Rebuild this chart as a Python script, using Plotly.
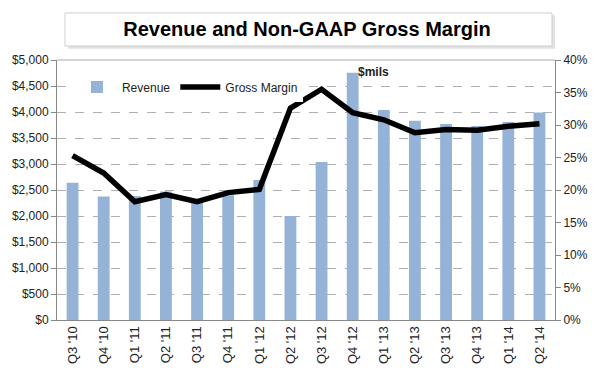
import plotly.graph_objects as go

quarters = ["Q3 '10", "Q4 '10", "Q1 '11", "Q2 '11", "Q3 '11", "Q4 '11", "Q1 '12", "Q2 '12",
            "Q3 '12", "Q4 '12", "Q1 '13", "Q2 '13", "Q3 '13", "Q4 '13", "Q1 '14", "Q2 '14"]
revenue = [2640, 2375, 2385, 2470, 2280, 2400, 2690, 2000,
           3040, 4755, 4040, 3830, 3770, 3730, 3810, 3990]
gross_margin = [25.3, 22.6, 18.2, 19.3, 18.2, 19.6, 20.1, 32.6,
                35.5, 31.9, 30.8, 28.8, 29.3, 29.2, 29.8, 30.2]
left_ticks = list(range(0, 5001, 500))
left_labels = ["${:,}".format(v) for v in left_ticks]
right_ticks = list(range(0, 41, 5))
right_labels = ["{}%".format(v) for v in right_ticks]

font = "Liberation Sans, Arial, sans-serif"
fig = go.Figure()
fig.add_trace(go.Bar(x=quarters, y=revenue, name="Revenue", marker_color="#95B3D7",
                     marker_line_width=0, width=0.38))
fig.add_trace(go.Scatter(x=quarters, y=gross_margin, name="Gross Margin", yaxis="y2",
                         mode="lines", line=dict(color="black", width=5.5)))

# page body has an 8px margin, so the figure is 592x366 and offsets are reduced by 8
fig.update_layout(
    width=592, height=366,
    margin=dict(l=49, r=45, t=52, b=54, autoexpand=False),
    paper_bgcolor="white", plot_bgcolor="white",
    font=dict(family=font, size=12, color="#222"),
    title=dict(text="<b>Revenue and Non-GAAP Gross Margin</b>", x=299/592, xanchor="center",
               y=1-21/366, yanchor="middle", font=dict(size=20, color="black", family=font)),
    xaxis=dict(tickangle=-90, showline=True, linecolor="#888", linewidth=1, ticks="",
               tickfont=dict(size=13, color="#222"), showgrid=False, automargin=False),
    yaxis=dict(range=[0, 5000], tickvals=left_ticks, ticktext=left_labels, showline=True,
               linecolor="#888", ticks="outside", ticklen=5, tickcolor="#888",
               tickfont=dict(size=12, color="#222"), automargin=False,
               showgrid=True, gridcolor="#b0b0b0", griddash="dash", zeroline=False),
    yaxis2=dict(range=[0, 40], tickvals=right_ticks, ticktext=right_labels, overlaying="y",
                side="right", showline=True, linecolor="#888", ticks="outside", ticklen=5,
                tickcolor="#888", tickfont=dict(size=12, color="#222"), automargin=False,
                showgrid=False, zeroline=False),
    legend=dict(orientation="h", x=0.03, y=0.896, xanchor="left", yanchor="middle",
                bgcolor="white", font=dict(size=12, color="#222"), itemwidth=40),
    bargap=0.6,
    shapes=[
        dict(type="rect", xref="paper", yref="paper", x0=0.022, x1=1.0, y0=1.043, y1=1.172,
             line=dict(width=0), fillcolor="#e2e2e2", layer="below"),
        dict(type="rect", xref="paper", yref="paper", x0=0.016, x1=0.994, y0=1.054, y1=1.181,
             line=dict(color="#cfcfcf", width=1), fillcolor="white"),
        dict(type="line", xref="paper", yref="paper", x0=0, x1=1, y0=1, y1=1,
             line=dict(color="#aaa", width=1)),
    ],
    annotations=[dict(text="<b>$mils</b>", x=quarters[9], xref="x", y=4770, yref="y",
                      xanchor="left", yanchor="middle", showarrow=False, xshift=3,
                      font=dict(size=12, color="#222"))],
)
fig.write_html("out.html")
